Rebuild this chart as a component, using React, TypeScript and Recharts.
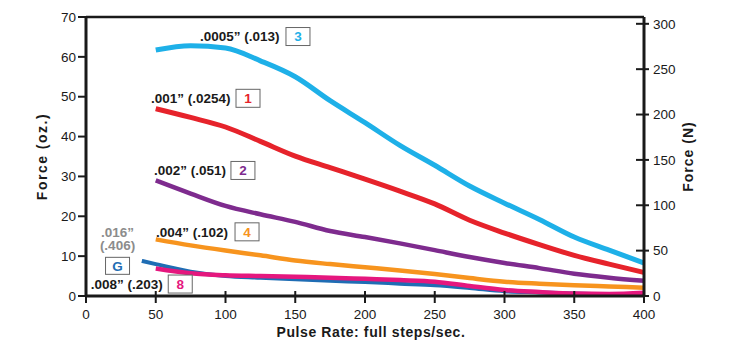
import { Label, Line, LineChart, ReferenceDot, ReferenceLine, XAxis, YAxis } from 'recharts';

// pulse rate, full steps/sec.
const rates = [50, 75, 100, 125, 150, 175, 200, 225, 250, 275, 300, 325, 350, 375, 400];
const ratesG = [40, 50, 75, 100, 125, 150, 175, 200, 225, 250, 275, 300, 325, 350, 375, 400];

// force (oz.) per resolution
const force0005 = [61.7, 62.8, 62.2, 59.0, 55.0, 49.0, 43.5, 37.8, 32.8, 27.6, 23.3, 19.2, 14.8, 11.5, 8.3];
const force001 = [47.0, 44.8, 42.4, 38.8, 35.1, 32.2, 29.3, 26.3, 23.1, 19.0, 15.8, 12.9, 10.2, 8.0, 5.9];
const force002 = [29.0, 25.7, 22.6, 20.5, 18.6, 16.3, 14.8, 13.2, 11.5, 9.8, 8.3, 7.0, 5.6, 4.6, 3.8];
const force004 = [14.2, 12.7, 11.4, 10.2, 8.9, 8.0, 7.2, 6.4, 5.5, 4.5, 3.6, 3.1, 2.7, 2.4, 2.1];
const force016 = [8.8, 8.0, 6.1, 5.0, 4.6, 4.2, 3.8, 3.5, 3.1, 2.7, 2.0, 1.2, 0.9, 0.6, 0.4, 0.3];
const force008 = [6.9, 5.7, 5.2, 5.0, 4.8, 4.6, 4.3, 4.0, 3.6, 2.5, 1.5, 1.0, 0.6, 0.5, 0.8];

const ozTicks = [0, 10, 20, 30, 40, 50, 60, 70];
const newtonTicks = [0, 50, 100, 150, 200, 250, 300];
const rateTicks = [0, 50, 100, 150, 200, 250, 300, 350, 400];

const toPoints = (xs: number[], ys: number[]) => xs.map((rate, i) => ({ rate, force: ys[i] }));

const SERIES = [
  { key: '3', color: '#1eb0e8', width: 5, data: toPoints(rates, force0005) },
  { key: '1', color: '#e6232b', width: 5, data: toPoints(rates, force001) },
  { key: '2', color: '#7e2b8e', width: 4.5, data: toPoints(rates, force002) },
  { key: '4', color: '#f7941e', width: 4.5, data: toPoints(rates, force004) },
  { key: 'G', color: '#1f6db4', width: 4, data: toPoints(ratesG, force016) },
  { key: '8', color: '#e5177e', width: 4.5, data: toPoints(rates, force008) },
];

const NOTES = [
  { rate: 81.7, force: 65.1, text: '.0005\u201d (.013)', tag: '3', color: '#1eb0e8', gap: 86 },
  { rate: 46.6, force: 49.6, text: '.001\u201d (.0254)', tag: '1', color: '#e6232b', gap: 85 },
  { rate: 48.7, force: 31.5, text: '.002\u201d (.051)', tag: '2', color: '#7e2b8e', gap: 77 },
  { rate: 50.2, force: 16.1, text: '.004\u201d (.102)', tag: '4', color: '#f7941e', gap: 79 },
  { rate: 3.4, force: 3.0, text: '.008\u201d (.203)', tag: '8', color: '#e5177e', gap: 77.5 },
];

const FONT = '"Liberation Sans", Arial, Helvetica, sans-serif';
const INK = '#1a1a1a';

function Note({ cx, cy, note }: any) {
  return (
    <g fontFamily={FONT} fontWeight="bold" fontSize={13.5}>
      <text x={cx} y={cy} dy="0.36em" fill={INK}>
        {note.text}
      </text>
      <rect x={cx + note.gap} y={cy - 9} width={24} height={18} fill="#fff" stroke="#666" strokeWidth={1} />
      <text x={cx + note.gap + 12} y={cy} dy="0.36em" textAnchor="middle" fill={note.color}>
        {note.tag}
      </text>
    </g>
  );
}

function NoteG({ cx, cy }: any) {
  return (
    <g fontFamily={FONT} fontWeight="bold" fontSize={13.5} textAnchor="middle">
      <text x={cx} y={cy} dy="0.36em" fill="#8c8c8c">.016”</text>
      <text x={cx} y={cy + 13.6} dy="0.36em" fill="#8c8c8c">(.406)</text>
      <rect x={cx - 12} y={cy + 25.5} width={24} height={17} fill="#fff" stroke="#666" strokeWidth={1} />
      <text x={cx} y={cy + 34} dy="0.36em" fill="#1f6db4">G</text>
    </g>
  );
}

const XTick = ({ x, y, payload }: any) => (
  <g>
    <line x1={x} x2={x} y1={y - 5} y2={y + 7} stroke={INK} strokeWidth={2} />
    <text x={x} y={y + 23} textAnchor="middle" fontFamily={FONT} fontSize={13.5} fill={INK}>
      {payload.value}
    </text>
  </g>
);

const LeftTick = ({ x, y, payload }: any) => (
  <g>
    <line x1={x - 8} x2={x} y1={y} y2={y} stroke={INK} strokeWidth={2} />
    <text x={x - 10} y={y + 4.7} textAnchor="end" fontFamily={FONT} fontSize={13.5} fill={INK}>
      {payload.value}
    </text>
  </g>
);

const RightTick = ({ x, y, payload }: any) => (
  <g>
    <line x1={x - 8} x2={x + 5} y1={y} y2={y} stroke={INK} strokeWidth={2} />
    <text x={x + 9} y={y + 4.7} textAnchor="start" fontFamily={FONT} fontSize={13.5} fill={INK}>
      {payload.value}
    </text>
  </g>
);

const titleStyle = { fontFamily: FONT, fontWeight: 'bold' as const, fontSize: 14, fill: INK };

export default function App() {
  return (
    <div style={{ position: 'absolute', left: 0, top: 0, width: 729, height: 347, background: '#fff' }}>
      <LineChart width={729} height={347} margin={{ top: 17, right: 0, bottom: 0, left: 0 }}>
        <XAxis
          dataKey="rate"
          type="number"
          domain={[0, 400]}
          ticks={rateTicks}
          interval={0}
          height={51}
          tickSize={0}
          tickMargin={0}
          tickLine={false}
          axisLine={{ stroke: INK, strokeWidth: 3 }}
          tick={XTick}
        >
          <Label
            content={({ viewBox }: any) => {
              const cx = viewBox.x + viewBox.width / 2 + 6;
              const cy = viewBox.y + 36;
              return (
                <text x={cx} y={cy} textAnchor="middle" dominantBaseline="central" letterSpacing={0.6} {...titleStyle}>
                  Pulse Rate: full steps/sec.
                </text>
              );
            }}
          />
        </XAxis>
        <YAxis
          yAxisId="left"
          type="number"
          domain={[0, 70]}
          ticks={ozTicks}
          interval={0}
          width={86}
          tickSize={0}
          tickMargin={0}
          tickLine={false}
          axisLine={{ stroke: INK, strokeWidth: 3 }}
          tick={LeftTick}
        >
          <Label
            content={({ viewBox }: any) => {
              const cx = viewBox.x + 42;
              const cy = viewBox.y + viewBox.height / 2;
              return (
                <text
                  x={cx}
                  y={cy}
                  transform={`rotate(-90 ${cx} ${cy})`}
                  textAnchor="middle"
                  dominantBaseline="central"
                  letterSpacing={1.5}
                  {...titleStyle}
                >
                  Force (oz.)
                </text>
              );
            }}
          />
        </YAxis>
        <YAxis
          yAxisId="right"
          orientation="right"
          type="number"
          domain={[0, 307.5]}
          allowDataOverflow
          ticks={newtonTicks}
          interval={0}
          width={85}
          tickSize={0}
          tickMargin={0}
          tickLine={false}
          axisLine={{ stroke: INK, strokeWidth: 3 }}
          tick={RightTick}
        >
          <Label
            content={({ viewBox }: any) => {
              const cx = viewBox.x + 44;
              const cy = viewBox.y + viewBox.height / 2;
              return (
                <text
                  x={cx}
                  y={cy}
                  transform={`rotate(-90 ${cx} ${cy})`}
                  textAnchor="middle"
                  dominantBaseline="central"
                  letterSpacing={1}
                  {...titleStyle}
                >
                  Force (N)
                </text>
              );
            }}
          />
        </YAxis>
        <ReferenceLine yAxisId="left" y={70} stroke={INK} strokeWidth={2.5} />
        {SERIES.map((s) => (
          <Line
            key={s.key}
            yAxisId="left"
            data={s.data}
            dataKey="force"
            type="monotone"
            stroke={s.color}
            strokeWidth={s.width}
            dot={false}
            activeDot={false}
            isAnimationActive={false}
          />
        ))}
        {NOTES.map((n) => (
          <ReferenceDot
            key={n.tag}
            yAxisId="left"
            x={n.rate}
            y={n.force}
            r={0}
            shape={(p: any) => <Note cx={p.cx} cy={p.cy} note={n} />}
          />
        ))}
        <ReferenceDot yAxisId="left" x={22.6} y={16.1} r={0} shape={(p: any) => <NoteG cx={p.cx} cy={p.cy} />} />
      </LineChart>
    </div>
  );
}
